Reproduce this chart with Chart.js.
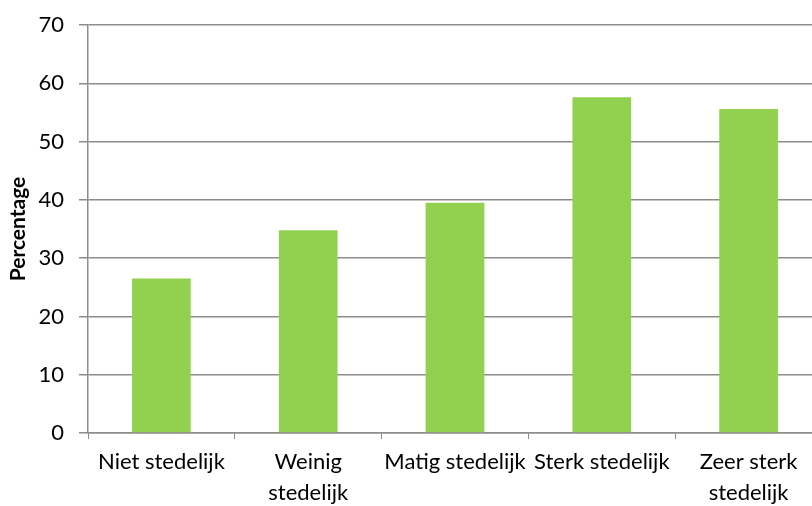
<!DOCTYPE html>
<html>
<head>
<meta charset="utf-8">
<script src="https://cdn.jsdelivr.net/npm/chart.js@4.4.0/dist/chart.umd.min.js"></script>
<style>
  html, body { margin: 0; padding: 0; background: #fff; overflow: hidden; }
  #wrap { width: 822px; height: 506px; }
</style>
</head>
<body>
<div id="wrap"><canvas id="barChart" width="822" height="506"></canvas></div>
<script>
// categorieën (labels met regelafbreking zoals in het origineel)
const categories = [
  'Niet stedelijk',
  ['Weinig', 'stedelijk'],
  'Matig stedelijk',
  'Sterk stedelijk',
  ['Zeer sterk', 'stedelijk']
];
const percentages = [26.5, 34.8, 39.5, 57.6, 55.6];
const yTicks = [0, 10, 20, 30, 40, 50, 60, 70];

const gridColor = '#8c8c8c';
const fontFamily = "Lato, 'Open Sans', sans-serif";

const ctx = document.getElementById('barChart').getContext('2d');
new Chart(ctx, {
  type: 'bar',
  data: {
    labels: categories,
    datasets: [{
      label: 'Percentage',
      data: percentages,
      backgroundColor: '#92D050',
      borderWidth: 0,
      categoryPercentage: 1.0,
      barPercentage: 0.4
    }]
  },
  options: {
    responsive: false,
    animation: false,
    layout: { padding: { top: 25, right: 0, bottom: 0, left: 0 } },
    plugins: {
      legend: { display: false },
      tooltip: { enabled: false }
    },
    scales: {
      x: {
        offset: true,
        afterFit: s => { s.height = 73; },
        grid: {
          offset: true,
          drawOnChartArea: false,
          drawTicks: true,
          tickLength: 6,
          color: gridColor,
          lineWidth: 1
        },
        border: { color: gridColor, width: 1.5 },
        ticks: {
          autoSkip: false,
          maxRotation: 0,
          minRotation: 0,
          padding: 8,
          color: '#000',
          font: { family: fontFamily, size: 22, lineHeight: 1.4 }
        }
      },
      y: {
        min: 0,
        max: 70,
        afterFit: s => { s.width = 88; s.paddingTop = 0; s.paddingBottom = 0; },
        afterBuildTicks: s => { s.ticks = yTicks.map(v => ({ value: v })); },
        grid: {
          color: gridColor,
          lineWidth: 1.5,
          drawTicks: true,
          tickLength: 9
        },
        border: { color: gridColor, width: 1.5 },
        ticks: {
          padding: 15,
          color: '#000',
          font: { family: fontFamily, size: 22 }
        },
        title: {
          display: true,
          text: 'Percentage',
          color: '#000',
          padding: { top: 6, bottom: 4 },
          font: { family: fontFamily, size: 21, weight: 'bold' }
        }
      }
    }
  }
});
</script>
</body>
</html>
